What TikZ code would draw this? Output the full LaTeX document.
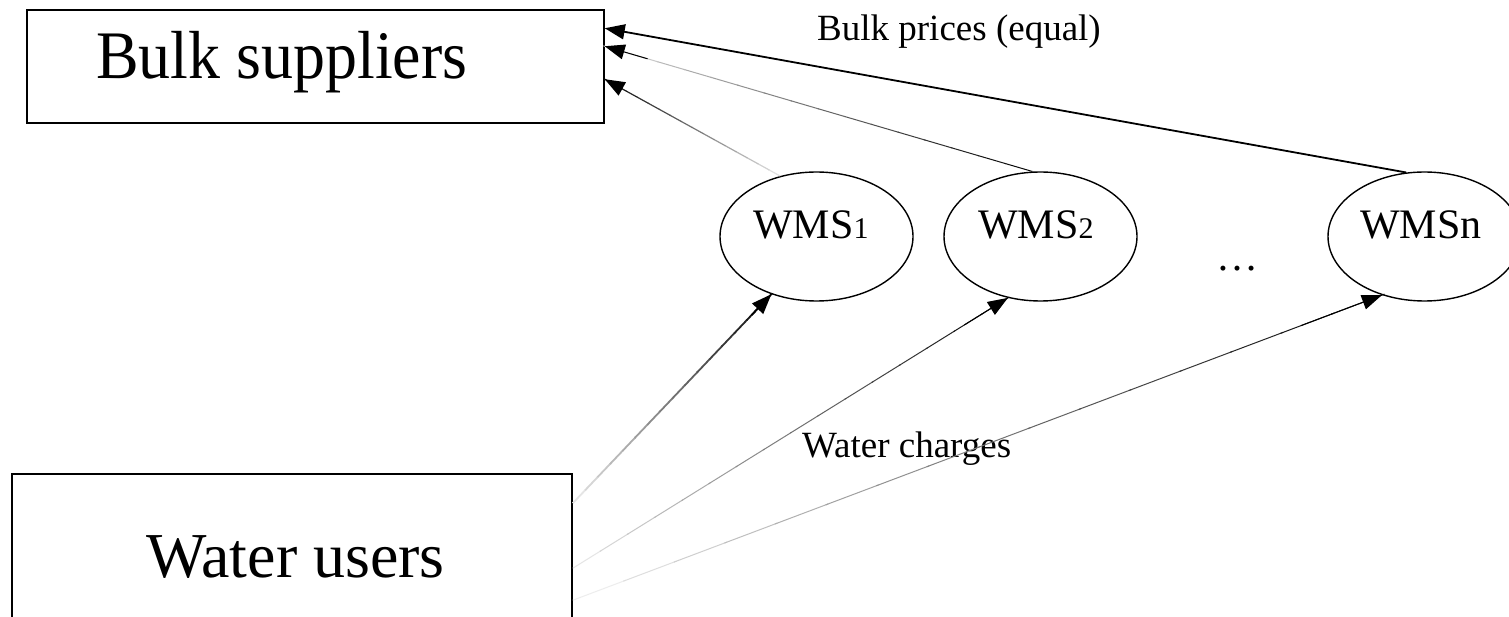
\documentclass[tikz,border=0pt]{standalone}
\usepackage{fontspec}
\setmainfont{Liberation Serif}
\usetikzlibrary{arrows.meta,shapes.geometric,calc}
% a connector whose ink goes from #3 % black at its start to #4 % at its end
\newcommand{\shadedlink}[5]{%
  \foreach \k in {0,...,15}{%
    \pgfmathsetmacro\ta{\k/16}%
    \pgfmathsetmacro\tb{(\k+1.05)/16}%
    \pgfmathtruncatemacro\ink{#3+(#4-#3)*(\k+0.5)/16}%
    \draw[line width=#5,black!\ink] ($(#1)!\ta!(#2)$) -- ($(#1)!\tb!(#2)$);
  }%
  \draw[tip,line width=#5] ($(#1)!0.9!(#2)$) -- (#2);
}
\newcommand{\digit}[1]{{\fontsize{30}{30}\selectfont #1}}
\begin{document}
\begin{tikzpicture}[x=1pt,y=-1pt,
  box/.style={draw,line width=1.5pt,inner sep=0pt},
  wms/.style={draw,ellipse,line width=1.4pt,minimum width=193pt,minimum height=129pt,inner sep=0pt},
  big/.style={font=\fontsize{64}{64}\selectfont,inner sep=0pt},
  mid/.style={font=\fontsize{42}{42}\selectfont,inner sep=0pt},
  small/.style={font=\fontsize{37}{37}\selectfont,inner sep=0pt},
  tip/.style={-{Triangle[length=20pt,width=15pt]}},
]
\useasboundingbox (0,0) rectangle (1509,617);
\fill[white] (0,0) rectangle (1509,617);

% the two boxes (the lower one runs off the bottom edge)
\node[box,minimum width=577pt,minimum height=113pt] (bulk) at (315.5,66.5) {};
\node[box,minimum width=560pt,minimum height=170pt] (users) at (292,559) {};
\node[inner sep=0pt,font=\fontsize{68}{68}\selectfont,anchor=base west] (bulklbl) at (96,79) {\scalebox{0.94}[1]{Bulk suppliers}};
\node[big,anchor=base west] (userslbl) at (146,577) {Water users};

% water management schemes
\node[wms] (w1) at (816.5,236.5) {};
\node[wms] (w2) at (1040.5,236.5) {};
\node[wms] (wn) at (1424.5,236.5) {};
\node[mid,anchor=base west] (w1lbl) at (753,239) {WMS\digit{1}};
\node[mid,anchor=base west] (w2lbl) at (978,239) {WMS\digit{2}};
\node[mid,anchor=base west] (wnlbl) at (1360,239) {WMSn};
\node[mid,anchor=base] (dots) at (1237,271) {…};

% labels of the two flows
\node[small,anchor=base west] (prices) at (817,41) {Bulk prices (equal)};
\node[small,anchor=base west] (charges) at (802,457) {Water charges};

% ends of the connectors on the box sides
\coordinate (b1) at ($(bulk.north east)+(0,70)$);
\coordinate (b2) at ($(bulk.north east)+(0,37)$);
\coordinate (bn) at ($(bulk.north east)+(0,19)$);
\coordinate (u1) at ($(users.north east)+(0,30)$);
\coordinate (u2) at ($(users.north east)+(0,95)$);
\coordinate (un) at ($(users.north east)+(0,127)$);

% bulk prices paid upwards
\shadedlink{w1.121}{b1}{10}{100}{1.2pt}
\shadedlink{w2.97}{b2}{100}{15}{1pt}
\draw[tip,line width=1.8pt] (wn.106) -- (bn);

% water charges paid by the users
\shadedlink{u1}{w1.232}{8}{100}{1.8pt}
\shadedlink{u2}{w2.242}{8}{100}{1pt}
\shadedlink{un}{wn.234}{4}{100}{1pt}
\end{tikzpicture}
\end{document}
